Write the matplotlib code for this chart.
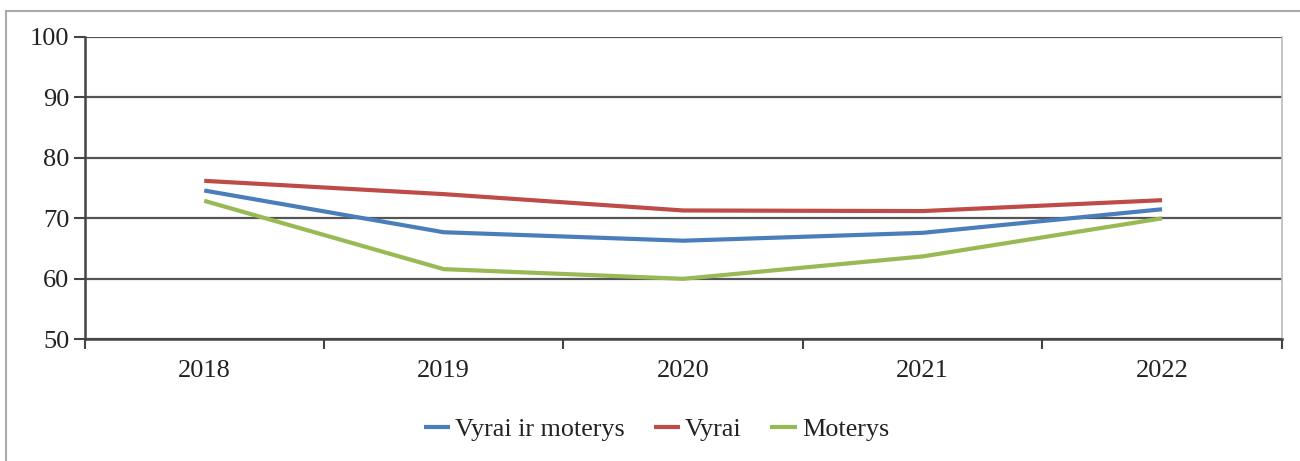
import matplotlib.pyplot as plt
from matplotlib.lines import Line2D
import numpy as np

years = ["2018", "2019", "2020", "2021", "2022"]
abu = [74.6, 67.7, 66.3, 67.6, 71.5]
vyrai = [76.2, 74.0, 71.3, 71.2, 73.0]
moterys = [72.9, 61.6, 60.0, 63.7, 70.0]
labels = ["Vyrai ir moterys", "Vyrai", "Moterys"]
colors = ["#4a7ebb", "#be4b48", "#98b954"]

plt.rcParams["font.family"] = ["Liberation Serif", "DejaVu Serif"]

fig = plt.figure(figsize=(13, 4.61), dpi=100)
ax = fig.add_axes([0.065, 0.264, 0.921, 0.656])

x = np.arange(len(years))
for series, label, color in zip([abu, vyrai, moterys], labels, colors):
    ax.plot(x, series, color=color, lw=3, label=label, solid_capstyle="butt", zorder=3)

ax.set_xlim(-0.5, len(years) - 0.5)
ax.set_ylim(50, 100)
ax.set_yticks(range(50, 101, 10))
ax.yaxis.grid(True, color="#555555", lw=1.6)
ax.set_axisbelow(True)

# category boundaries as ticks, labels centred between them
ax.set_xticks(np.arange(-0.5, len(years), 1.0))
ax.set_xticklabels([])
ax.set_xticks(x, minor=True)
ax.set_xticklabels(years, minor=True)
ax.tick_params(axis="x", which="major", length=7, width=1.5, color="#444444", direction="out")
ax.tick_params(axis="x", which="minor", length=0, pad=15, labelsize=19, labelcolor="#222222")
ax.tick_params(axis="y", length=8, width=1.5, color="#444444", pad=3, labelsize=19, labelcolor="#222222")

for side in ["left", "bottom"]:
    ax.spines[side].set_color("#444444")
    ax.spines[side].set_linewidth(1.8)
ax.spines["top"].set_visible(False)
ax.spines["right"].set_color("#bbbbbb")
ax.spines["right"].set_linewidth(1.2)

leg = fig.legend(
    loc="center",
    bbox_to_anchor=(0.505, 0.068),
    ncol=3,
    frameon=False,
    fontsize=18.8,
    handlelength=1.0,
    handletextpad=0.2,
    columnspacing=1.1,
)
for t in leg.get_texts():
    t.set_color("#222222")

# outer chart border (left and top visible)
fig.add_artist(Line2D([6 / 1300, 6 / 1300], [0, 1 - 11 / 461], transform=fig.transFigure, color="#aaaaaa", lw=1.5))
fig.add_artist(Line2D([6 / 1300, 1], [1 - 11 / 461, 1 - 11 / 461], transform=fig.transFigure, color="#aaaaaa", lw=1.5))

fig.savefig("out.png", dpi=100, facecolor="white")
